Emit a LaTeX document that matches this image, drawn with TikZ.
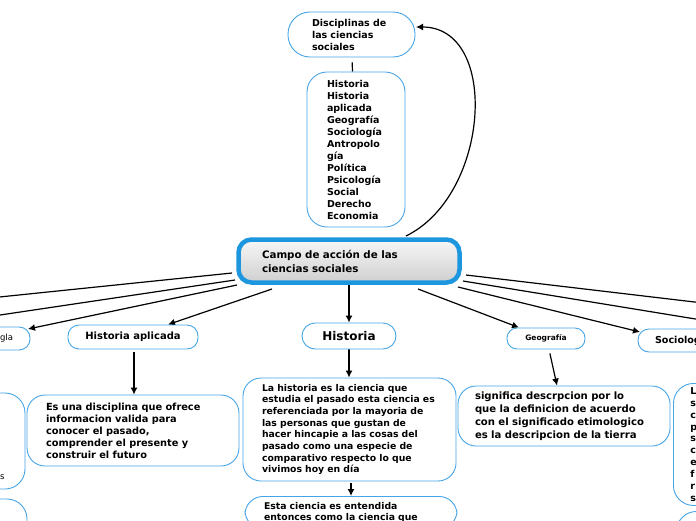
\documentclass[tikz,border=0pt]{standalone}
\usepackage{fontspec}
\setmainfont{DejaVu Sans}
\usetikzlibrary{arrows.meta,backgrounds}
\definecolor{boxblue}{RGB}{70,165,230}
\definecolor{mainblue}{RGB}{28,150,222}
\begin{document}
\begin{tikzpicture}[x=1pt,y=-1pt,
 box/.style={draw=boxblue, line width=0.9pt, fill=white, rounded corners=18pt, align=left, inner xsep=19pt, inner ysep=0pt, font=\bfseries\fontsize{9.3}{11.7}\selectfont},
 pill/.style={draw=boxblue, line width=0.9pt, fill=white, rounded corners=11pt, align=center, inner sep=0pt, font=\bfseries\fontsize{10}{12}\selectfont},
 conn/.style={line width=1.2pt, draw=black},
 arr/.style={conn, -{Latex[length=7pt,width=7pt]}}
]
\useasboundingbox (0,0) rectangle (696,520);
\clip (0,0) rectangle (696,520);

% central
\node[draw=mainblue, line width=4.5pt, rounded corners=13pt, top color=gray!6, bottom color=gray!38,
      minimum height=43pt, text width=174pt, inner xsep=23.5pt, inner ysep=0pt, align=left,
      font=\bfseries\fontsize{10.3}{14}\selectfont] (central) at (349,261) {Campo de acción de las\\ciencias sociales};

% top
\node[pill, rounded corners=22pt, minimum height=45pt, text width=79pt, inner xsep=24pt, align=left,
      font=\bfseries\fontsize{9.5}{12}\selectfont] (disc) at (351.5,34.5) {Disciplinas de\\las ciencias\\sociales};
\node[box, rounded corners=20pt, text width=58pt, inner xsep=20pt, minimum height=155pt,
      font=\bfseries\fontsize{9.5}{12}\selectfont] (list) at (356,149.5)
 {Historia\\Historia\\aplicada\\Geografía\\Sociología\\Antropolo\\gía\\Política\\Psicología\\Social\\Derecho\\Economia};

% Historia branch
\node[pill, rounded corners=13pt, minimum width=94pt, minimum height=26pt, font=\bfseries\fontsize{12}{14}\selectfont] (historia) at (349,336) {Historia};
\node[box, text width=175pt, minimum height=103pt] (hdesc) at (349.5,429.5)
 {La historia es la ciencia que\\estudia el pasado esta ciencia es\\referenciada por la mayoria de\\las personas que gustan de\\hacer hincapie a las cosas del\\pasado como una especie de\\comparativo respecto lo que\\vivimos hoy en día};
\node[box, anchor=north, text width=174pt, inner ysep=6pt, font=\bfseries\fontsize{9.3}{11.2}\selectfont] (hdesc2) at (351,496)
 {Esta ciencia es entendida\\entonces como la ciencia que};

% Historia aplicada branch
\node[pill, minimum width=130pt, minimum height=24pt, font=\bfseries\fontsize{10}{12}\selectfont] (hap) at (133,337) {Historia aplicada};
\node[box, text width=174pt, minimum height=71pt, font=\bfseries\fontsize{9.8}{12}\selectfont] (hapdesc) at (133,430.5)
 {Es una disciplina que ofrece\\informacion valida para\\conocer el pasado,\\comprender el presente y\\construir el futuro};

% Geografia branch
\node[pill, rounded corners=10pt, minimum width=78pt, minimum height=21pt, font=\bfseries\fontsize{7.5}{9}\selectfont] (geo) at (546,338.5) {Geografía};
\node[box, text width=178pt, inner xsep=17pt, minimum height=60pt, font=\bfseries\fontsize{10.1}{13}\selectfont] (geodesc) at (564,416)
 {significa descrpcion por lo\\que la definicion de acuerdo\\con el significado etimologico\\es la descripcion de la tierra};

% Sociologia branch (cut off)
\node[pill, minimum height=23pt, text width=88pt, inner xsep=17pt, align=left, font=\bfseries\fontsize{9.6}{12}\selectfont] (soc) at (699,340.5) {Sociolog};
\node[box, anchor=north west, rounded corners=20pt, minimum height=122pt, text width=166pt, inner xsep=17pt,
      font=\bfseries\fontsize{9.5}{11.9}\selectfont] (rbox) at (673,383) {L\\s\\c\\p\\s\\c\\e\\f\\r\\s};
\node[box, anchor=north west, rounded corners=20pt, minimum height=60pt, minimum width=150pt] (rbox2) at (676,511) {};

% left cut-off nodes
\node[pill, minimum height=23pt, text width=66pt, inner xsep=17pt, align=right, font=\fontsize{8.5}{10}\selectfont] (gla) at (-20,338.5) {gla};
\node[box, rounded corners=20pt, minimum width=200pt, minimum height=96pt] (lbox) at (-75,441) {};
\node[font=\fontsize{8.5}{10}\selectfont, inner sep=0pt, anchor=west] (lboxs) at (0,477) {s};
\node[box, rounded corners=20pt, minimum width=204pt, minimum height=80pt] (lbox2) at (-75,539) {};

% free ends
\coordinate (L1) at (-20,299);
\coordinate (L2) at (-20,318);
\coordinate (R1) at (720,305);
\coordinate (R2) at (720,323);

\begin{scope}[on background layer]
\draw[arr] ([shift={(57,-25)}]central.center) .. controls (490,195) and (500,27) .. ([shift={(64.5,-7.5)}]disc.center);
\draw[conn, shorten <=5pt] ([xshift=0.5pt]disc.south) -- ([xshift=-3.5pt]list.north);
\draw[arr] (central.center) -- (historia.north);
\draw[arr] (historia.south) -- (historia.south |- hdesc.north);
\draw[arr, shorten <=2pt] ([xshift=1.5pt]hdesc.south) -- (hdesc2.north);
\draw[arr] ([shift={(-77,28)}]central.center) -- ([xshift=35pt]hap.north);
\draw[arr, shorten <=3pt] ([xshift=1pt]hap.south) -- ([xshift=1pt]hap.south |- hapdesc.north);
\draw[arr] ([shift={(69,28)}]central.center) -- ([xshift=-27pt]geo.north);
\draw[arr, shorten <=4pt] ([xshift=3pt]geo.south) -- ([xshift=-7pt]geodesc.north);
\draw[arr] ([shift={(109,26)}]central.center) -- ([shift={(-59,-8.5)}]soc.center);
\draw[arr] ([shift={(-112,24)}]central.center) -- ([shift={(48,-9.5)}]gla.center);
\draw[conn] ([shift={(-117,12)}]central.center) -- (L1);
\draw[conn] ([shift={(-114,19)}]central.center) -- (L2);
\draw[conn] ([shift={(117,14)}]central.center) -- (R1);
\draw[conn] ([shift={(114,20)}]central.center) -- (R2);
\end{scope}
\end{tikzpicture}
\end{document}
